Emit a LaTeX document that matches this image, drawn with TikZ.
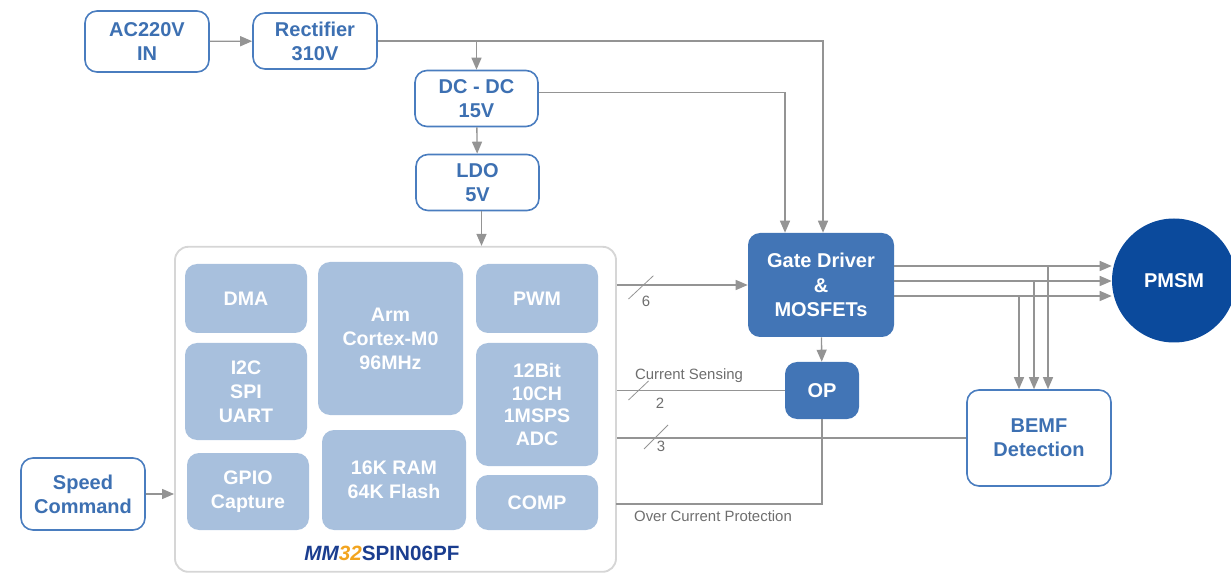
\documentclass[tikz,border=0pt]{standalone}
\usepackage{fontspec}
\setmainfont{Liberation Sans}
\usepackage{tikz}
\usetikzlibrary{arrows.meta}

\definecolor{boxline}{HTML}{4A7DBF}
\definecolor{boxtext}{HTML}{3D70B2}
\definecolor{modfill}{HTML}{A8C0DD}
\definecolor{drvfill}{HTML}{4275B6}
\definecolor{motorfill}{HTML}{0B4A9C}
\definecolor{wiregray}{HTML}{949494}
\definecolor{framegray}{HTML}{D6D6D6}
\definecolor{notegray}{HTML}{6E6E6E}
\definecolor{chipblue}{HTML}{1A3D8F}
\definecolor{chiporange}{HTML}{F2A41F}

\begin{document}
\begin{tikzpicture}[x=0.75pt,y=-0.75pt,
  blk/.style={draw=boxline,line width=1.2pt,rounded corners=9pt,fill=white,text=boxtext,
    font=\bfseries\fontsize{15}{18}\selectfont,align=center,inner sep=0pt},
  mod/.style={fill=modfill,rounded corners=9pt,text=white,
    font=\bfseries\fontsize{14.7}{18}\selectfont,align=center,inner sep=0pt},
  drv/.style={fill=drvfill,rounded corners=9pt,text=white,
    font=\bfseries\fontsize{15}{18.4}\selectfont,align=center,inner sep=0pt},
  wire/.style={draw=wiregray,line width=1pt},
  arr/.style={wire,-{Triangle[length=9pt,width=7.5pt]}},
  note/.style={text=notegray,font=\fontsize{11.2}{13}\selectfont,inner sep=0pt}]
\useasboundingbox (0,0) rectangle (1231,573);

% power path
\node[blk,minimum width=93pt,minimum height=45.75pt] (ac) at (147,41.5) {AC220V\\IN};
\node[blk,minimum width=93pt,minimum height=42pt] (rect) at (315,41) {Rectifier\\310V};
\node[blk,minimum width=92.25pt,minimum height=42pt] (dcdc) at (476.5,98.5) {DC - DC\\15V};
\node[blk,minimum width=92.25pt,minimum height=42pt] (ldo) at (477.5,182.5) {LDO\\5V};
\node[blk,minimum width=93pt,minimum height=54pt] (speed) at (83,494) {Speed\\Command};

% MCU
\node[draw=framegray,line width=1.4pt,rounded corners=10pt,minimum width=330.75pt,minimum height=243.75pt] (mcu) at (395.5,409.3) {};
\node[mod,minimum width=91.5pt,minimum height=51.75pt] (dma) at (246,298.5) {DMA};
\node[mod,minimum width=91.5pt,minimum height=72.75pt] (bus) at (246,391.5) {I2C\\SPI\\UART};
\node[mod,minimum width=91.5pt,minimum height=57.75pt] (gpio) at (248,491.5) {GPIO\\Capture};
\node[mod,minimum width=108.75pt,minimum height=114.75pt] (cpu) at (390.5,338.5) {Arm\\Cortex-M0\\96MHz};
\node[mod,minimum width=108pt,minimum height=75pt] (mem) at (394,480) {16K RAM\\64K Flash};
\node[mod,minimum width=91.5pt,minimum height=51.75pt] (pwm) at (537,298.5) {PWM};
\node[mod,minimum width=91.5pt,minimum height=92.25pt,font=\bfseries\fontsize{14.7}{17}\selectfont] (adc) at (537,404.5) {12Bit\\10CH\\1MSPS\\ADC};
\node[mod,minimum width=91.5pt,minimum height=41.25pt] (comp) at (537,502.5) {COMP};
\node[font=\bfseries\fontsize{15.5}{18}\selectfont,inner sep=0pt] (chip) at (382,553)
  {\textcolor{chipblue}{\itshape MM}\textcolor{chiporange}{\itshape 32}\textcolor{chipblue}{SPIN06PF}};

% power stage
\node[drv,minimum width=109.5pt,minimum height=78pt] (gate) at (821,285) {Gate Driver\\\&\\MOSFETs};
\node[drv,minimum width=55.5pt,minimum height=42.75pt] (op) at (822,390.5) {OP};
\node[blk,minimum width=108pt,minimum height=72pt] (bemf) at (1039,438) {BEMF\\Detection};
\node[circle,fill=motorfill,text=white,minimum size=93pt,inner sep=0pt,
  font=\bfseries\fontsize{15}{18}\selectfont] (pmsm) at (1174,280.5) {PMSM};

\draw[arr] (ac) -- (rect);
\draw[arr] (rect.east) -| ([xshift=1.5pt]gate.north);
\draw[arr] (rect.east -| dcdc.north) -- (dcdc.north);
\draw[arr] ([yshift=4.3pt]dcdc.east) -| ([xshift=-27pt]gate.north);
\draw[arr] (dcdc) -- (ldo);
\draw[arr] ([xshift=3pt]ldo.south) -- ([xshift=3pt]ldo.south |- mcu.north);
\draw[arr] (speed.east) -- (speed.east -| mcu.west);

\draw[arr] (mcu.east |- gate.west) -- (gate.west);
\draw[arr] (gate) -- (op);
\draw[wire] (mcu.east |- op.west) -- (op.west);
\draw[wire] (mcu.east |- bemf.west) -- (bemf.west);
\coordinate (ocp) at (616,504);
\draw[wire] (op.south) |- (ocp);

\foreach \i/\y/\x in {1/266/1048,2/281/1034,3/296/1019}{
  \coordinate (gout\i) at (894,\y);
  \coordinate (tap\i) at (\x,\y);
  \draw[arr] (gout\i) -- (gout\i -| pmsm.west);
  \draw[arr] (tap\i) -- (tap\i |- bemf.north);
}

% bus widths
\draw[wiregray,line width=0.6pt] (628.5,299) -- (653.4,275.7);
\draw[wiregray,line width=0.6pt] (628.5,400) -- (648.5,381);
\draw[wiregray,line width=0.6pt] (644,449) -- (668,425);
\node[note] (n6) at (646,301) {6};
\node[note] (n2) at (660,403) {2};
\node[note] (n3) at (661,446) {3};
\node[note] (sense) at (689,376) {Current Sensing};
\node[note] (ocplab) at (713,516) {Over Current Protection};

\end{tikzpicture}
\end{document}
